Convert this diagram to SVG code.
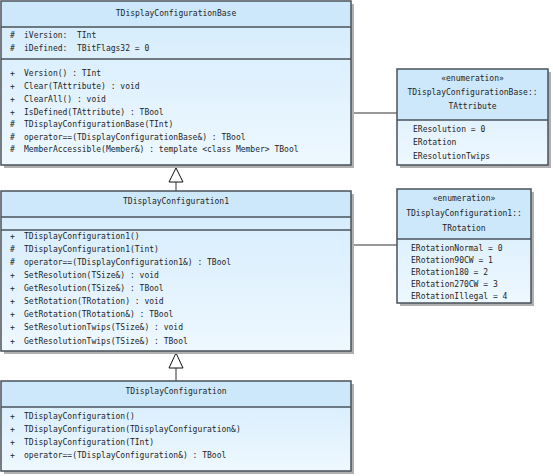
<svg xmlns="http://www.w3.org/2000/svg" width="553" height="476" viewBox="0 0 553 476">
<defs>
<linearGradient id="body" x1="0" y1="0" x2="0" y2="1">
<stop offset="0" stop-color="#d3ebfc"/>
<stop offset="1" stop-color="#eef8ff"/>
</linearGradient>
<style>
.sh{fill:#b0b0b0}
.hd{fill:#cde8fb}
.bd{fill:url(#body)}
.bx{fill:none;stroke:#4a5259;stroke-width:1.5}
.sep{stroke:#4a5259;stroke-width:1.5}
text{font-family:"DejaVu Sans Mono","Liberation Mono",monospace;font-size:8px;fill:#1e1e1e;white-space:pre}
.c{text-anchor:middle}
.con{stroke:#333;stroke-width:1;fill:none}
.tri{fill:#fff;stroke:#111;stroke-width:1}
</style>
</defs>
<rect width="553" height="476" fill="#fff"/>

<g id="connectors">
<line class="con" x1="351" y1="113" x2="397" y2="113"/>
<line class="con" x1="351" y1="245" x2="397" y2="245"/>
<line class="con" x1="176" y1="182" x2="176" y2="191"/>
<polygon class="tri" points="176,168 169,182 183,182"/>
<line class="con" x1="176" y1="368" x2="176" y2="381"/>
<polygon class="tri" points="176,353 169,368 183,368"/>
</g>

<g id="TDisplayConfigurationBase">
<rect class="sh" x="4" y="4" width="350" height="164"/>
<rect class="bd" x="1" y="1" width="350" height="164"/>
<rect class="hd" x="1" y="1" width="350" height="26"/>
<line class="sep" x1="1" y1="27" x2="351" y2="27"/>
<line class="sep" x1="1" y1="59" x2="351" y2="59"/>
<rect class="bx" x="1" y="1" width="350" height="164"/>
<text class="c" x="176" y="16">TDisplayConfigurationBase</text>
<text x="10" y="38">#<tspan x="24">iVersion:  TInt</tspan></text>
<text x="10" y="51">#<tspan x="24">iDefined:  TBitFlags32 = 0</tspan></text>
<text x="10" y="76">+<tspan x="24">Version() : TInt</tspan></text>
<text x="10" y="89">+<tspan x="24">Clear(TAttribute) : void</tspan></text>
<text x="10" y="102">+<tspan x="24">ClearAll() : void</tspan></text>
<text x="10" y="115">+<tspan x="24">IsDefined(TAttribute) : TBool</tspan></text>
<text x="10" y="127">#<tspan x="24">TDisplayConfigurationBase(TInt)</tspan></text>
<text x="10" y="140">#<tspan x="24">operator==(TDisplayConfigurationBase&amp;) : TBool</tspan></text>
<text x="10" y="152">#<tspan x="24">MemberAccessible(Member&amp;) : template &lt;class Member&gt; TBool</tspan></text>
</g>

<g id="TAttribute">
<rect class="sh" x="400" y="72" width="151" height="96"/>
<rect class="bd" x="397" y="69" width="151" height="96"/>
<rect class="hd" x="397" y="69" width="151" height="51"/>
<line class="sep" x1="397" y1="120" x2="548" y2="120"/>
<rect class="bx" x="397" y="69" width="151" height="96"/>
<text class="c" x="472.5" y="81">«enumeration»</text>
<text class="c" x="472.5" y="95">TDisplayConfigurationBase::</text>
<text class="c" x="472.5" y="109">TAttribute</text>
<text x="413" y="132">EResolution = 0</text>
<text x="413" y="145">ERotation</text>
<text x="413" y="159">EResolutionTwips</text>
</g>

<g id="TDisplayConfiguration1">
<rect class="sh" x="4" y="194" width="350" height="160"/>
<rect class="bd" x="1" y="191" width="350" height="160"/>
<rect class="hd" x="1" y="191" width="350" height="26"/>
<line class="sep" x1="1" y1="217" x2="351" y2="217"/>
<line class="sep" x1="1" y1="230" x2="351" y2="230"/>
<rect class="bx" x="1" y="191" width="350" height="160"/>
<text class="c" x="176" y="204">TDisplayConfiguration1</text>
<text x="10" y="239">+<tspan x="24">TDisplayConfiguration1()</tspan></text>
<text x="10" y="252">#<tspan x="24">TDisplayConfiguration1(Tint)</tspan></text>
<text x="10" y="265">#<tspan x="24">operator==(TDisplayConfiguration1&amp;) : TBool</tspan></text>
<text x="10" y="278">+<tspan x="24">SetResolution(TSize&amp;) : void</tspan></text>
<text x="10" y="291">+<tspan x="24">GetResolution(TSize&amp;) : TBool</tspan></text>
<text x="10" y="304">+<tspan x="24">SetRotation(TRotation) : void</tspan></text>
<text x="10" y="317">+<tspan x="24">GetRotation(TRotation&amp;) : TBool</tspan></text>
<text x="10" y="330">+<tspan x="24">SetResolutionTwips(TSize&amp;) : void</tspan></text>
<text x="10" y="344">+<tspan x="24">GetResolutionTwips(TSize&amp;) : TBool</tspan></text>
</g>

<g id="TRotation">
<rect class="sh" x="400" y="192" width="134" height="114"/>
<rect class="bd" x="397" y="189" width="134" height="114"/>
<rect class="hd" x="397" y="189" width="134" height="50"/>
<line class="sep" x1="397" y1="239" x2="531" y2="239"/>
<rect class="bx" x="397" y="189" width="134" height="114"/>
<text class="c" x="464" y="201">«enumeration»</text>
<text class="c" x="464" y="216">TDisplayConfiguration1::</text>
<text class="c" x="464" y="231">TRotation</text>
<text x="411" y="251">ERotationNormal = 0</text>
<text x="411" y="263">ERotation90CW = 1</text>
<text x="411" y="275">ERotation180 = 2</text>
<text x="411" y="287">ERotation270CW = 3</text>
<text x="411" y="299">ERotationIllegal = 4</text>
</g>

<g id="TDisplayConfiguration">
<rect class="sh" x="4" y="384" width="350" height="90"/>
<rect class="bd" x="1" y="381" width="350" height="90"/>
<rect class="hd" x="1" y="381" width="350" height="26"/>
<line class="sep" x1="1" y1="407" x2="351" y2="407"/>
<rect class="bx" x="1" y="381" width="350" height="90"/>
<text class="c" x="176" y="394">TDisplayConfiguration</text>
<text x="10" y="419">+<tspan x="24">TDisplayConfiguration()</tspan></text>
<text x="10" y="432">+<tspan x="24">TDisplayConfiguration(TDisplayConfiguration&amp;)</tspan></text>
<text x="10" y="445">+<tspan x="24">TDisplayConfiguration(TInt)</tspan></text>
<text x="10" y="458">+<tspan x="24">operator==(TDisplayConfiguration&amp;) : TBool</tspan></text>
</g>
</svg>
